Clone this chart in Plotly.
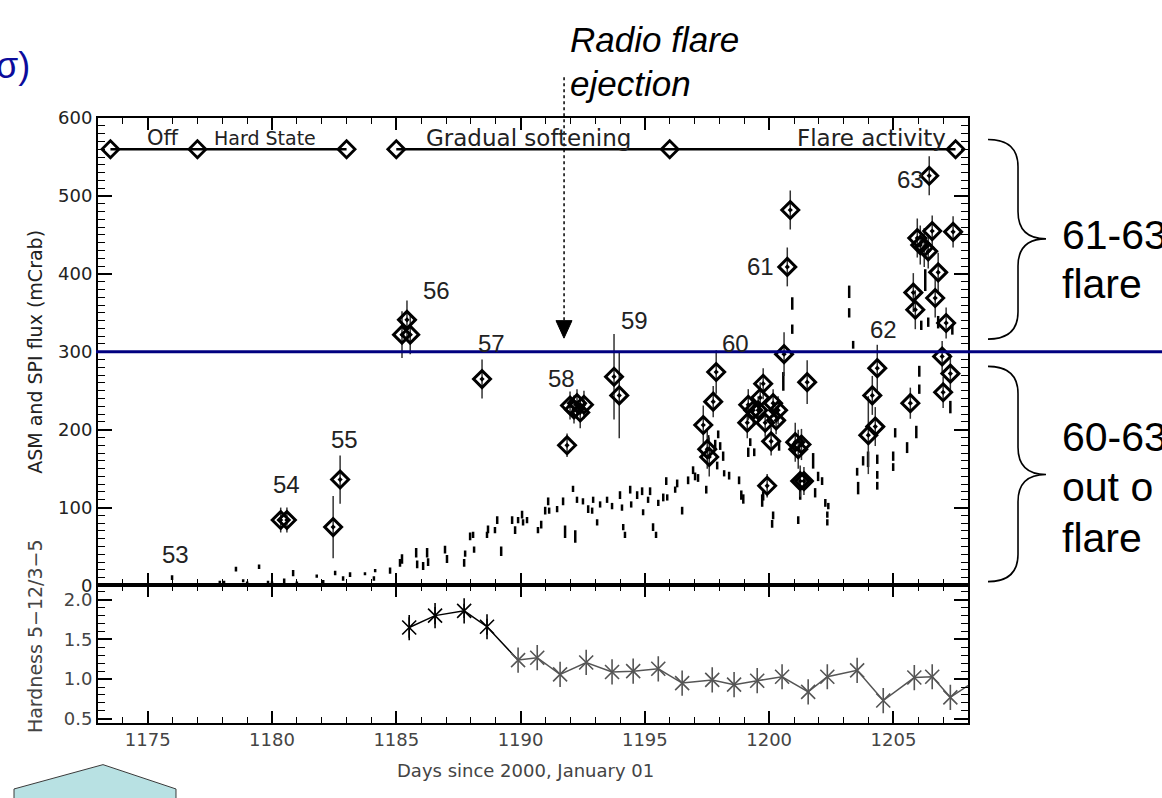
import plotly.graph_objects as go

W, H = 1162, 798
def px(x): return x / W
def py(y): return 1 - y / H

# ---------------- data ----------------
# ASM one-day/orbit points (short vertical dashes)
asm_day = [1175.98, 1177.90, 1178.07, 1178.55, 1178.84, 1179.00, 1179.48, 1179.84, 1180.00, 1180.49,
           1180.85, 1181.00, 1181.80, 1182.06, 1182.54, 1182.86, 1183.14, 1183.74, 1184.10, 1184.15,
           1184.75, 1185.15, 1185.23, 1185.80, 1185.84, 1186.08, 1186.24, 1186.28, 1186.96, 1187.04,
           1187.73, 1187.77, 1187.97, 1188.09, 1188.13, 1188.65, 1188.69, 1188.97, 1189.06, 1189.22,
           1189.66, 1189.78, 1189.90, 1190.06, 1190.10, 1190.26, 1190.70, 1190.83, 1190.99, 1191.11,
           1191.15, 1191.47, 1191.71, 1191.79, 1192.11, 1192.20, 1192.27, 1192.51, 1192.72, 1192.88,
           1192.92, 1193.08, 1193.20, 1193.48, 1193.68, 1194.00, 1194.08, 1194.13, 1194.20, 1194.41,
           1194.45, 1194.69, 1194.89, 1194.93, 1195.13, 1195.21, 1195.33, 1195.45, 1195.54, 1195.74,
           1195.86, 1195.90, 1196.22, 1196.30, 1196.50, 1196.74, 1196.94, 1197.02, 1197.14, 1197.47,
           1197.55, 1197.83, 1197.95, 1198.03, 1198.15, 1197.91, 1198.19, 1198.39, 1198.79, 1198.88,
           1198.96, 1199.16, 1199.24, 1199.40, 1199.72, 1199.76, 1200.16, 1200.12, 1200.40, 1200.57,
           1200.93, 1200.93, 1201.17, 1201.25, 1201.77, 1201.85, 1201.97, 1202.13, 1202.26, 1202.38,
           1202.34, 1202.34, 1203.22, 1203.22, 1203.38, 1203.54, 1203.58, 1203.78, 1203.98, 1204.35,
           1204.35, 1204.35, 1204.99, 1204.99, 1205.07, 1205.55, 1205.92, 1206.04, 1206.04, 1206.12,
           1206.28, 1206.40, 1206.80, 1207.29, 1207.37]
asm_flux = [10, 4, 4, 21, 6, 3, 24, 4, 3, 6,
            16, 3, 12, 5, 16, 9, 14, 15, 9, 19,
            19, 29, 34, 42, 27, 25, 42, 30, 46, 34,
            29, 41, 63, 65, 46, 65, 72, 71, 84, 44,
            84, 71, 84, 91, 81, 84, 71, 78, 96, 108,
            96, 98, 108, 69, 124, 63, 110, 108, 98, 96,
            110, 81, 104, 110, 102, 116, 100, 75, 65, 123,
            104, 116, 121, 94, 110, 121, 75, 65, 106, 113,
            134, 113, 123, 131, 96, 135, 148, 140, 138, 123,
            188, 181, 194, 179, 166, 154, 144, 141, 135, 116,
            111, 171, 184, 171, 109, 115, 90, 79, 178, 262,
            362, 329, 84, 116, 160, 119, 140, 134, 106, 102,
            91, 81, 377, 350, 309, 146, 125, 160, 162, 162,
            142, 128, 166, 152, 196, 177, 197, 275, 252, 334,
            392, 338, 338, 229, 328]
asm_err = [3, 2, 2, 3, 2, 2, 3, 2, 2, 3,
           4, 2, 2, 2, 3, 3, 3, 2, 3, 2,
           4, 5, 6, 6, 5, 5, 6, 5, 5, 5,
           5, 4, 5, 4, 4, 4, 5, 4, 5, 6,
           5, 5, 4, 5, 4, 4, 4, 5, 5, 5,
           4, 4, 5, 8, 4, 8, 4, 4, 5, 4,
           4, 4, 4, 4, 4, 5, 4, 4, 4, 5,
           4, 5, 5, 4, 4, 5, 5, 4, 4, 5,
           5, 4, 4, 5, 5, 5, 5, 5, 5, 5,
           5, 6, 5, 5, 6, 5, 4, 5, 5, 6,
           6, 6, 5, 5, 8, 6, 5, 5, 5, 12,
           8, 6, 5, 6, 10, 6, 6, 5, 5, 4,
           4, 4, 8, 6, 5, 5, 8, 6, 10, 6,
           5, 5, 6, 5, 6, 7, 8, 7, 6, 6,
           14, 6, 8, 8, 6]

# SPI points (diamonds with error bars)
spi_day = [1180.35, 1180.60, 1182.46, 1182.74, 1185.43, 1185.23, 1185.56, 1188.45,
           1191.87, 1191.99, 1192.15, 1192.27, 1192.40, 1192.55, 1193.76, 1193.97,
           1197.87, 1197.75, 1197.35, 1197.51, 1197.59,
           1199.76, 1199.64, 1199.16, 1199.12, 1199.36, 1199.56, 1200.16, 1200.36, 1200.28,
           1199.84, 1200.08, 1199.92,
           1200.73, 1200.85, 1200.60, 1201.53, 1201.05, 1201.17, 1201.30, 1201.25, 1201.40,
           1204.35, 1204.15, 1204.27, 1203.99, 1205.68, 1206.96, 1207.29, 1207.00,
           1206.44, 1206.56, 1207.40, 1205.96, 1206.08, 1206.24, 1206.40, 1206.80, 1205.80,
           1206.68, 1205.88, 1207.12]
spi_flux = [84, 84, 75, 136, 341, 322, 322, 265,
            180, 231, 226, 234, 222, 232, 268, 244,
            274, 236, 206, 175, 165,
            259, 241, 232, 209, 225, 225, 234, 225, 212,
            209, 185, 128,
            409, 482, 297, 261, 184, 175, 181, 134, 134,
            279, 244, 204, 193, 234, 294, 272, 248,
            526, 455, 454, 446, 437, 434, 429, 402, 376,
            369, 354, 337]
spi_err = [16, 16, 40, 31, 25, 30, 25, 25,
           15, 18, 18, 18, 20, 18, 55, 55,
           28, 20, 25, 25, 25,
           20, 20, 20, 20, 18, 18, 18, 18, 18,
           18, 18, 15,
           25, 25, 28, 28, 25, 25, 20, 20, 18,
           30, 25, 25, 50, 20, 20, 25, 20,
           25, 20, 20, 25, 25, 25, 22, 25, 25,
           25, 25, 20]

# Spectral-state bar
state_day = [1173.5, 1177.0, 1183.0, None, 1185.0, 1196.0, 1207.5]
state_flux = [560, 560, 560, None, 560, 560, 560]
state_labels = ["Off", "Hard State", "Gradual softening", "Flare activity"]
state_label_day = [1175.6, 1179.7, 1190.3, 1204.1]
state_label_flux = [575, 574, 575, 575]
state_label_size = [21, 19, 23, 23]

# Flare numbers
flare_labels = ["53", "54", "55", "56", "57", "58", "59", "60", "61", "62", "63"]
flare_label_day = [1176.1, 1180.6, 1182.9, 1186.6, 1188.85, 1191.63, 1194.6, 1198.63, 1199.64, 1204.59, 1205.68]
flare_label_flux = [40, 129, 188, 379, 310, 266, 340, 310, 409, 329, 521]

# Hardness ratio
hard_day = [1185.52, 1186.56, 1187.73, 1188.65, 1189.90, 1190.67, 1191.59, 1192.64, 1193.68, 1194.53,
            1195.54, 1196.50, 1197.71, 1198.59, 1199.52, 1200.52, 1201.57, 1202.34, 1203.54, 1204.59,
            1205.84, 1206.56, 1207.29, 1208.40]
hard_val = [1.65, 1.80, 1.86, 1.66, 1.24, 1.27, 1.06, 1.21, 1.09, 1.10,
            1.13, 0.95, 0.99, 0.93, 0.98, 1.03, 0.84, 1.03, 1.11, 0.73,
            1.02, 1.03, 0.77, 1.00]
hard_err = [0.13, 0.11, 0.09, 0.10] + [0.0] * 20

radio_flare_day = 1191.75
threshold_flux = 300

# ---------------- figure ----------------
fig = go.Figure()

fig.add_trace(go.Scatter(
    x=asm_day, y=asm_flux, mode="markers", xaxis="x", yaxis="y",
    marker=dict(size=1, color="black"),
    error_y=dict(type="data", array=asm_err, visible=True, color="black", thickness=2.5, width=0),
    showlegend=False, hoverinfo="skip"))

fig.add_trace(go.Scatter(
    x=spi_day, y=spi_flux, mode="markers", xaxis="x", yaxis="y",
    marker=dict(symbol="diamond-open-dot", size=13, color="black", line=dict(width=3, color="black")),
    error_y=dict(type="data", array=spi_err, visible=True, color="#333333", thickness=1.5, width=0),
    showlegend=False, hoverinfo="skip"))

fig.add_trace(go.Scatter(
    x=state_day, y=state_flux, mode="lines+markers", xaxis="x", yaxis="y",
    line=dict(color="black", width=2.5),
    marker=dict(symbol="diamond-open", size=13, color="black", line=dict(width=2.8, color="black")),
    cliponaxis=False, showlegend=False, hoverinfo="skip"))

# hardness: black first segment, grey after
fig.add_trace(go.Scatter(
    x=hard_day[:5], y=hard_val[:5], mode="lines", xaxis="x2", yaxis="y2",
    line=dict(color="black", width=1.5), showlegend=False, hoverinfo="skip"))
fig.add_trace(go.Scatter(
    x=hard_day[4:], y=hard_val[4:], mode="lines", xaxis="x2", yaxis="y2",
    line=dict(color="#555555", width=1.5), showlegend=False, hoverinfo="skip"))
hard_cols = ["black"] * 4 + ["#555555"] * 20
fig.add_trace(go.Scatter(
    x=hard_day, y=hard_val, mode="markers", xaxis="x2", yaxis="y2",
    marker=dict(symbol="x-thin-open", size=14, color=hard_cols, line=dict(width=1.6, color=hard_cols)),
    error_y=dict(type="data", array=hard_err, visible=True, color="black", thickness=1.5, width=0),
    showlegend=False, hoverinfo="skip"))
fig.add_trace(go.Scatter(
    x=hard_day, y=hard_val, mode="markers", xaxis="x2", yaxis="y2",
    marker=dict(symbol="line-ns-open", size=18, color=hard_cols, line=dict(width=1.6, color=hard_cols)),
    showlegend=False, hoverinfo="skip"))

tickfont_top = dict(family="DejaVu Sans", size=18, color="#222222")
tickfont_bot = dict(family="DejaVu Sans", size=18, color="#444444")
xdom = [px(98), px(968)]
common_x = dict(domain=xdom, range=[1173, 1208], tick0=1175, dtick=5, ticks="inside", ticklen=12,
                tickwidth=1.5, tickcolor="black", showline=True, linecolor="black", linewidth=2,
                mirror="allticks", showgrid=False, zeroline=False,
                minor=dict(dtick=1, ticks="inside", ticklen=6, tickwidth=1.2, tickcolor="black"))
fig.update_layout(
    width=W, height=H, margin=dict(l=0, r=0, t=0, b=0),
    paper_bgcolor="white", plot_bgcolor="white",
    xaxis=dict(**common_x, anchor="y", showticklabels=False, matches="x2"),
    xaxis2=dict(**common_x, anchor="y2", showticklabels=True, tickfont=tickfont_bot),
    yaxis=dict(domain=[py(590), py(110)], anchor="x", range=[0, 600], tick0=0, dtick=100,
               ticks="inside", ticklen=14, tickwidth=1.5, tickcolor="black", showline=True,
               linecolor="black", linewidth=2, mirror="allticks", showgrid=False, zeroline=False,
               tickfont=tickfont_top,
               minor=dict(dtick=10, ticks="inside", ticklen=7, tickwidth=1.2, tickcolor="black")),
    yaxis2=dict(domain=[py(731), py(590)], anchor="x2", range=[0.45, 2.18], tick0=0.5, dtick=0.5,
                tickformat=".1f", ticks="inside", ticklen=14, tickwidth=1.5, tickcolor="black",
                showline=True, linecolor="black", linewidth=2, mirror="allticks", showgrid=False,
                zeroline=False, tickfont=tickfont_bot,
                minor=dict(dtick=0.1, ticks="inside", ticklen=7, tickwidth=1.2, tickcolor="black")),
)

ann = []
for t, d, f, s in zip(state_labels, state_label_day, state_label_flux, state_label_size):
    ann.append(dict(x=d, y=f, xref="x", yref="y", text=t, showarrow=False,
                    font=dict(family="DejaVu Sans", size=s, color="#222222"),
                    xanchor="center", yanchor="middle"))
for t, d, f in zip(flare_labels, flare_label_day, flare_label_flux):
    ann.append(dict(x=d, y=f, xref="x", yref="y", text=t, showarrow=False,
                    font=dict(family="Liberation Sans", size=24, color="#222222"),
                    xanchor="center", yanchor="middle"))

def paper_text(x, y, text, size, color="black", family="Liberation Sans", xanchor="center", angle=0):
    return dict(x=px(x), y=py(y), xref="paper", yref="paper", text=text, showarrow=False,
                xanchor=xanchor, yanchor="middle", textangle=angle,
                font=dict(family=family, size=size, color=color))

# axis titles
ann.append(paper_text(35, 350, "ASM and SPI flux (mCrab)", 19, "#222222", "DejaVu Sans", angle=-90))
ann.append(paper_text(35, 642, "Hardness 5\u221212/3\u22125", 19, "#444444", "DejaVu Sans", angle=-90))
ann.append(paper_text(525, 780, "Days since 2000, January 01", 18, "#444444", "DejaVu Sans"))

# slide texts
ann.append(paper_text(-6, 56, "\u03c3)", 36, "#0c0c9c", xanchor="left"))
ann.append(paper_text(568, 29, "<i>Radio flare</i>", 35, xanchor="left"))
ann.append(paper_text(568, 74, "<i>ejection</i>", 35, xanchor="left"))
for t, yy in [("61-63", 230), ("flare", 280), ("60-63", 438), ("out o", 489), ("flare", 541)]:
    ann.append(paper_text(1060, yy, t, 41, xanchor="left"))
fig.update_layout(annotations=ann)

def P(x, y):
    return f"{px(x):.5f},{py(y):.5f}"

def brace(xe, yt, yb, xm, xt, yt_ip, r=28):
    return (f"M {P(xe, yt)} Q {P(xm, yt)} {P(xm, yt + r)} L {P(xm, yt_ip - r)} "
            f"Q {P(xm, yt_ip)} {P(xt, yt_ip)} Q {P(xm, yt_ip)} {P(xm, yt_ip + r)} "
            f"L {P(xm, yb - r)} Q {P(xm, yb)} {P(xe, yb)}")

shapes = [
    # threshold line
    dict(type="line", xref="paper", yref="y", x0=px(96), x1=1.0, y0=threshold_flux, y1=threshold_flux,
         line=dict(color="#00007f", width=3)),
    # radio flare dotted arrow
    dict(type="line", xref="x", yref="paper", x0=radio_flare_day, x1=radio_flare_day,
         y0=py(68), y1=py(320), line=dict(color="black", width=1.5, dash="dot")),
    dict(type="path", xref="paper", yref="paper",
         path=f"M {P(556, 318)} L {P(572, 318)} L {P(564, 336)} Z",
         fillcolor="black", line=dict(color="black", width=1)),
    # braces
    dict(type="path", xref="paper", yref="paper", path=brace(988, 132, 337, 1018, 1046, 234),
         line=dict(color="black", width=1.6)),
    dict(type="path", xref="paper", yref="paper", path=brace(988, 365, 586, 1018, 1046, 476),
         line=dict(color="black", width=1.6)),
    # light blue arrow shape bottom-left
    dict(type="path", xref="paper", yref="paper",
         path=f"M {P(14, 799)} L {P(103, 774)} L {P(176, 799)} L {P(176, 810)} L {P(14, 810)} Z",
         fillcolor="#b8e1e3", line=dict(color="#3a3a3a", width=1)),
]
fig.update_layout(shapes=shapes)

fig.write_html("out.html")
